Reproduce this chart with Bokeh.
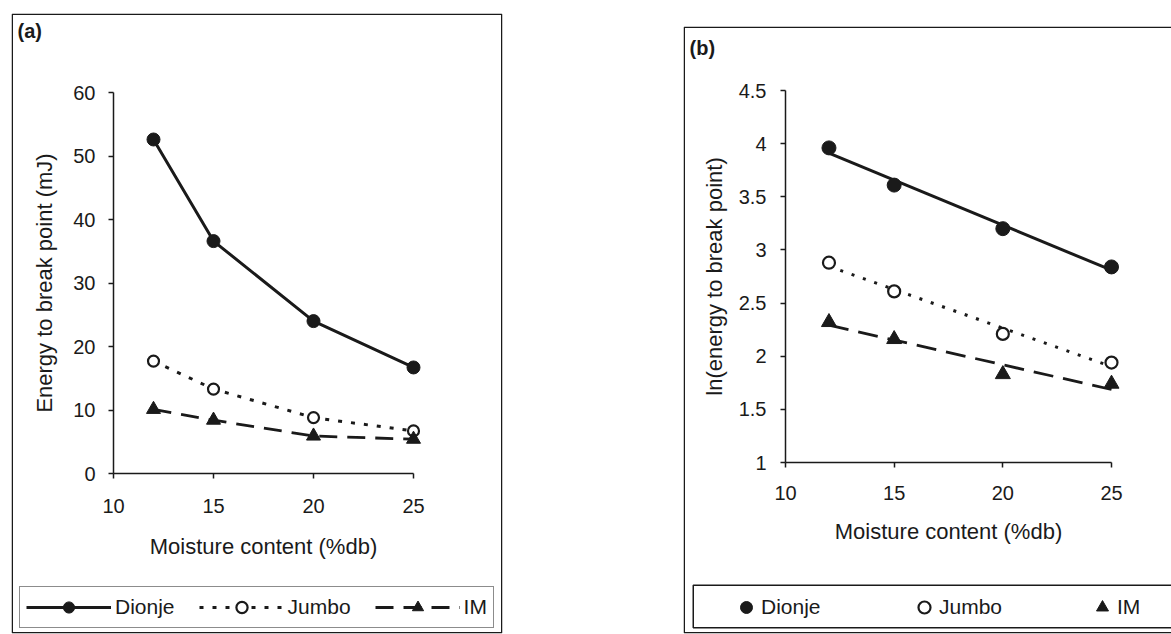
import numpy as np
from bokeh.plotting import figure
from bokeh.models import (Range1d, FixedTicker, Legend, LegendItem, Label, Spacer,
                          CustomJSTickFormatter, LinearAxis, BoxAnnotation)
from bokeh.layouts import row, column
from bokeh.embed import file_html
from bokeh.resources import INLINE

# ---------------- data ----------------
moisture = [12, 15, 20, 25]
energy_dionje = [52.6, 36.6, 24.0, 16.7]
energy_jumbo = [17.7, 13.3, 8.8, 6.7]
energy_im = [10.1, 8.4, 5.9, 5.4]
ln_dionje = [3.96, 3.61, 3.20, 2.84]
ln_jumbo = [2.88, 2.61, 2.21, 1.94]
ln_im = [2.32, 2.16, 1.83, 1.74]
series_names = ["Dionje", "Jumbo", "IM"]
x_ticks = [10, 15, 20, 25]
y_ticks_a = [0, 10, 20, 30, 40, 50, 60]
y_ticks_b = [1, 1.5, 2, 2.5, 3, 3.5, 4, 4.5]

INK = "#1a1a1a"
FONT = "Liberation Sans"


def scale(p_lo, p_hi, v_lo, v_hi):
    """Map page pixel -> data value, for values v_lo/v_hi sitting on pixels p_lo/p_hi."""
    s = (p_hi - p_lo) / (v_hi - v_lo)
    return lambda px: v_lo + (px - p_lo) / s


def add_axes(p, xfix, yfix, xb, yb, ylabel, yticks, xt_stand, xl_stand, yt_stand, yl_stand):
    xa = LinearAxis(fixed_location=xfix, bounds=xb, ticker=FixedTicker(ticks=x_ticks),
                    axis_label="Moisture content (%db)")
    ya = LinearAxis(fixed_location=yfix, bounds=yb, ticker=FixedTicker(ticks=yticks),
                    axis_label=ylabel)
    for ax in (xa, ya):
        ax.axis_line_color = INK
        ax.axis_line_width = 1.5
        ax.major_tick_line_color = INK
        ax.major_tick_line_width = 1.5
        ax.major_tick_out = 5
        ax.major_tick_in = 0
        ax.minor_tick_line_color = None
        ax.major_label_text_font = FONT
        ax.major_label_text_font_size = "20px"
        ax.major_label_text_color = INK
        ax.axis_label_text_font = FONT
        ax.axis_label_text_font_size = "22px"
        ax.axis_label_text_font_style = "normal"
        ax.axis_label_text_color = INK
        ax.formatter = CustomJSTickFormatter(code="return String(tick)")
    xa.major_label_standoff = xt_stand
    xa.axis_label_standoff = xl_stand
    ya.major_label_standoff = yt_stand
    ya.axis_label_standoff = yl_stand
    p.add_layout(xa, "below")
    p.add_layout(ya, "left")


def base_fig(width, height, xr, yr, right_border):
    p = figure(width=width, height=height, x_range=xr, y_range=yr,
               x_axis_location=None, y_axis_location=None,
               output_backend="svg", toolbar_location=None,
               min_border_left=1, min_border_top=1, min_border_bottom=1,
               min_border_right=right_border)
    p.xgrid.visible = False
    p.ygrid.visible = False
    p.outline_line_color = None
    p.background_fill_color = "white"
    p.border_fill_color = "white"
    return p


def panel_label(p, text, x, y):
    p.add_layout(Label(x=x, y=y, x_units="screen", y_units="screen", text=text,
                       text_font=FONT, text_font_size="20px",
                       text_font_style="bold", text_color=INK,
                       text_baseline="middle", text_align="left"))


def legend(items, loc, **kw):
    opts = dict(border_line_color=INK, border_line_width=1.5,
                background_fill_color="white", background_fill_alpha=1)
    opts.update(kw)
    return Legend(items=items, orientation="horizontal", location=loc, margin=0,
                  label_text_font=FONT, label_text_font_size="21px",
                  label_text_color=INK, **opts)


def page_box(p, fx, fy, left, right, top, bottom):
    p.add_layout(BoxAnnotation(left=fx(left), right=fx(right), top=fy(top),
                               bottom=fy(bottom), fill_alpha=0, line_color=INK,
                               line_width=1.5, line_alpha=1))


# ---------------- panel (a) ----------------
# frame covers page x 11..502, y 13..633
fx_a = scale(113, 413, 10, 25)
fy_a0 = scale(-473, -92, 0, 60)
fy_a = lambda py: fy_a0(-py)
p1 = base_fig(493, 622, Range1d(fx_a(11), fx_a(502)), Range1d(fy_a(633), fy_a(13)), 1)
add_axes(p1, 0, 10, (10, 25), (0, 60), "Energy to break point (mJ)", y_ticks_a,
         20, 18, 13, 13)
page_box(p1, fx_a, fy_a, 11.75, 501.25, 13.75, 632.25)

a_d_l = p1.line(moisture, energy_dionje, line_color=INK, line_width=3)
a_d_m = p1.scatter(moisture, energy_dionje, marker="circle", size=13,
                   fill_color=INK, line_color=INK)
a_j_l = p1.line(moisture, energy_jumbo, line_color=INK, line_width=3, line_dash="4 9")
a_j_m = p1.scatter(moisture, energy_jumbo, marker="circle", size=11,
                   fill_color="white", line_color=INK, line_width=2.2)
a_i_l = p1.line(moisture, energy_im, line_color=INK, line_width=2.8, line_dash="18 10")
a_i_m = p1.scatter(moisture, energy_im, marker="triangle", size=14,
                   fill_color=INK, line_color=INK)

p1.add_layout(legend(
    [LegendItem(label=series_names[0], renderers=[a_d_l, a_d_m]),
     LegendItem(label=series_names[1], renderers=[a_j_l, a_j_m]),
     LegendItem(label=series_names[2], renderers=[a_i_l, a_i_m])],
    (8, 5), glyph_width=85, glyph_height=28, label_standoff=4, spacing=24, padding=6))
panel_label(p1, "(a)", 6, 603)

# ---------------- panel (b) ----------------
# frame covers page x 683..1171, y 26..633
fx_b = scale(785, 1111, 10, 25)
fy_b0 = scale(-462, -90, 1, 4.5)
fy_b = lambda py: fy_b0(-py)
p2 = base_fig(489, 609, Range1d(fx_b(683), fx_b(1171)), Range1d(fy_b(633), fy_b(26)), 0)
add_axes(p2, 1, 10, (10, 25), (1, 4.5), "ln(energy to break point)", y_ticks_b,
         18, 16, 14, 9)
page_box(p2, fx_b, fy_b, 683.75, 1200, 26.75, 632.25)   # outer frame, open to the right
page_box(p2, fx_b, fy_b, 692.75, 1200, 584.75, 627.25)  # legend frame, open to the right

fit_x = [moisture[0], moisture[-1]]


def trend(vals):
    k, c = np.polyfit(moisture, vals, 1)
    return [k * xx + c for xx in fit_x]


p2.line(fit_x, trend(ln_dionje), line_color=INK, line_width=3)
p2.line(fit_x, trend(ln_jumbo), line_color=INK, line_width=3, line_dash="3 9")
p2.line(fit_x, trend(ln_im), line_color=INK, line_width=2.8, line_dash="20 10")
b_d = p2.scatter(moisture, ln_dionje, marker="circle", size=14,
                 fill_color=INK, line_color=INK)
b_j = p2.scatter(moisture, ln_jumbo, marker="circle", size=12,
                 fill_color="white", line_color=INK, line_width=2.2)
b_i = p2.scatter(moisture, ln_im, marker="triangle", size=15,
                 fill_color=INK, line_color=INK)

p2.add_layout(legend(
    [LegendItem(label=series_names[0], renderers=[b_d]),
     LegendItem(label=series_names[1], renderers=[b_j]),
     LegendItem(label=series_names[2], renderers=[b_i])],
    (14, 11), glyph_width=30, glyph_height=30, label_standoff=0, label_width=140,
    spacing=8, padding=7, title=" ", title_location="left",
    title_text_font_size="1px", title_standoff=33,
    border_line_color=None, background_fill_alpha=0))
panel_label(p2, "(b)", 6, 586)

layout = row(Spacer(width=10),
             column(Spacer(height=12), p1),
             Spacer(width=179),
             column(Spacer(height=25), p2))

open("out.html", "w").write(file_html(layout, INLINE))
